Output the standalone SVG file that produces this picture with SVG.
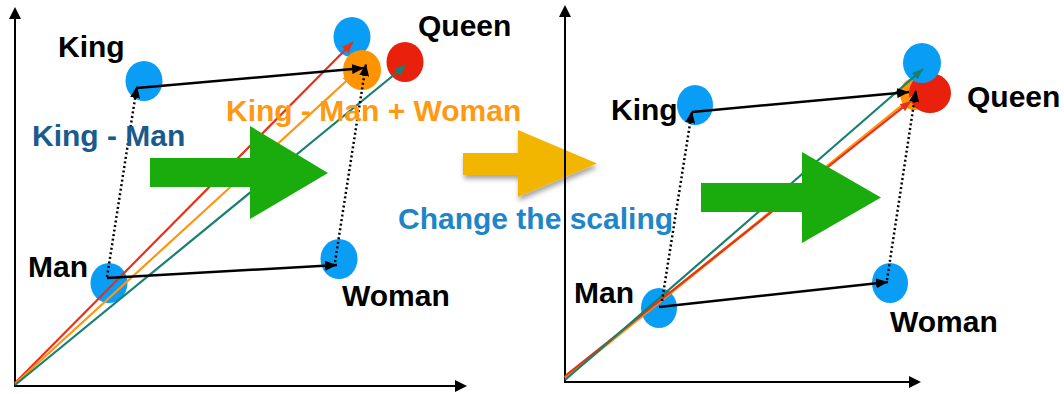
<svg xmlns="http://www.w3.org/2000/svg" width="1064" height="394" viewBox="0 0 1064 394">
  <defs>
    <marker id="ah-black" markerUnits="userSpaceOnUse" markerWidth="13" markerHeight="10" refX="12" refY="5" orient="auto">
      <path d="M0,0 L12,5 L0,10 z" fill="#000"/>
    </marker>
    <marker id="ah-red" markerUnits="userSpaceOnUse" markerWidth="12" markerHeight="10" refX="11" refY="4.5" orient="auto">
      <path d="M0,0 L11,4.5 L0,9 z" fill="#e8301a"/>
    </marker>
    <marker id="ah-orange" markerUnits="userSpaceOnUse" markerWidth="12" markerHeight="10" refX="11" refY="4.5" orient="auto">
      <path d="M0,0 L11,4.5 L0,9 z" fill="#ff9410"/>
    </marker>
    <marker id="ah-teal" markerUnits="userSpaceOnUse" markerWidth="12" markerHeight="10" refX="11" refY="4.5" orient="auto">
      <path d="M0,0 L11,4.5 L0,9 z" fill="#178070"/>
    </marker>
    <filter id="soft-shadow" x="-20%" y="-20%" width="140%" height="150%">
      <feGaussianBlur in="SourceAlpha" stdDeviation="2.5"/>
      <feOffset dx="1" dy="4" result="blur"/>
      <feComponentTransfer><feFuncA type="linear" slope="0.35"/></feComponentTransfer>
      <feMerge><feMergeNode/><feMergeNode in="SourceGraphic"/></feMerge>
    </filter>
    <style>
      .axis { stroke:#000; stroke-width:2; fill:none; }
      .dot-blue { fill:#0a9df5; }
      .dot-red { fill:#e8200c; }
      .dot-orange { fill:#ff9300; }
      .vec { stroke-width:2.2; fill:none; }
      .red { stroke:#e8301a; }
      .orange { stroke:#ff9410; }
      .teal { stroke:#178070; }
      .solid { stroke:#000; stroke-width:2.5; fill:none; }
      .dotted { stroke:#000; stroke-width:2.5; fill:none; stroke-dasharray:2 2.6; }
      .lbl { font-family:"Liberation Sans", Arial, Helvetica, sans-serif; font-weight:bold; font-size:30px; fill:#000; }
      .big-green { fill:#1aab0d; }
    </style>
  </defs>

  <!-- left plot: axes -->
  <g id="axes-left">
    <line class="axis" x1="15" y1="386" x2="15" y2="18"/>
    <path d="M15,7 L21,19 L9,19 z" fill="#000"/>
    <line class="axis" x1="14" y1="386" x2="456" y2="386"/>
    <path d="M467,386 L455,380 L455,392 z" fill="#000"/>
  </g>

  <!-- left plot: word points -->
  <g id="node-king-left">
    <ellipse class="dot-blue" cx="144" cy="81" rx="18.5" ry="20"/>
    <text class="lbl" x="58" y="57">King</text>
  </g>
  <g id="node-man-left">
    <ellipse class="dot-blue" cx="109" cy="283" rx="18.5" ry="20"/>
    <text class="lbl" x="28" y="277">Man</text>
  </g>
  <g id="node-woman-left">
    <ellipse class="dot-blue" cx="339" cy="259" rx="18.5" ry="20"/>
    <text class="lbl" x="342" y="306">Woman</text>
  </g>
  <g id="node-top-left">
    <ellipse class="dot-blue" cx="352" cy="37" rx="18.5" ry="20"/>
  </g>
  <g id="node-result-left">
    <ellipse class="dot-orange" cx="362" cy="70" rx="19" ry="20"/>
  </g>
  <g id="node-queen-left">
    <ellipse class="dot-red" cx="405" cy="62" rx="18.5" ry="20"/>
    <text class="lbl" x="418" y="36">Queen</text>
  </g>

  <!-- left plot: vectors -->
  <g id="connectors-left">
    <line class="vec red" x1="15" y1="383" x2="353" y2="42" marker-end="url(#ah-red)"/>
    <line class="vec orange" x1="15" y1="384" x2="354" y2="74" marker-end="url(#ah-orange)"/>
    <line class="vec teal" x1="15" y1="385" x2="406" y2="65" marker-end="url(#ah-teal)"/>
    <line class="solid" x1="137" y1="88" x2="364" y2="68" marker-end="url(#ah-black)"/>
    <line class="dotted" x1="107" y1="277" x2="137" y2="86" marker-end="url(#ah-black)"/>
    <line class="solid" x1="107" y1="278" x2="337" y2="265" marker-end="url(#ah-black)"/>
    <line class="dotted" x1="335" y1="262" x2="366" y2="64" marker-end="url(#ah-black)"/>
  </g>

  <!-- left plot: direction arrow and captions -->
  <polygon id="arrow-green-left" class="big-green" points="150,158 250,158 250,126 328,173 250,219 250,187 150,187"/>
  <text id="caption-king-man" class="lbl" x="32" y="146" style="fill:#1b5a8c">King - Man</text>
  <text id="caption-result" class="lbl" x="226" y="121" style="fill:#ff9914">King - Man + Woman</text>

  <!-- transition between the two plots -->
  <polygon id="arrow-yellow" points="463,153 518,153 518,130 597,163.5 518,197 518,175 463,175" fill="#f2b604" filter="url(#soft-shadow)"/>
  <text id="caption-scaling" class="lbl" x="398" y="229" style="fill:#1e86c8">Change the scaling</text>

  <!-- right plot: axes -->
  <g id="axes-right">
    <line class="axis" x1="565" y1="382" x2="565" y2="16"/>
    <path d="M565,5 L571,17 L559,17 z" fill="#000"/>
    <line class="axis" x1="564" y1="382" x2="910" y2="382"/>
    <path d="M921,382 L909,376 L909,388 z" fill="#000"/>
  </g>

  <!-- right plot: word points -->
  <g id="node-king-right">
    <ellipse class="dot-blue" cx="695" cy="105" rx="18" ry="20"/>
    <text class="lbl" x="611" y="120">King</text>
  </g>
  <g id="node-man-right">
    <ellipse class="dot-blue" cx="659" cy="308" rx="18" ry="20"/>
    <text class="lbl" x="574" y="303">Man</text>
  </g>
  <g id="node-woman-right">
    <ellipse class="dot-blue" cx="890" cy="283" rx="18" ry="20"/>
    <text class="lbl" x="890" y="332">Woman</text>
  </g>
  <g id="node-result-right">
    <ellipse class="dot-orange" cx="914" cy="94" rx="14" ry="16"/>
  </g>
  <g id="node-queen-right">
    <ellipse class="dot-red" cx="930" cy="93" rx="21" ry="20"/>
    <text class="lbl" x="967" y="107">Queen</text>
  </g>
  <g id="node-top-right">
    <ellipse class="dot-blue" cx="922" cy="63" rx="19" ry="20"/>
  </g>

  <!-- right plot: vectors -->
  <g id="connectors-right">
    <line class="vec orange" x1="565" y1="378" x2="913" y2="97" marker-end="url(#ah-orange)" style="stroke-width:3"/>
    <line class="vec red" x1="565" y1="376" x2="911" y2="101" marker-end="url(#ah-red)"/>
    <line class="vec teal" x1="565" y1="380" x2="923" y2="69" marker-end="url(#ah-teal)"/>
    <line class="solid" x1="692" y1="112" x2="909" y2="92" marker-end="url(#ah-black)"/>
    <line class="dotted" x1="662" y1="301" x2="692" y2="111" marker-end="url(#ah-black)"/>
    <line class="solid" x1="659" y1="307" x2="888" y2="282" marker-end="url(#ah-black)"/>
    <line class="dotted" x1="887" y1="280" x2="916" y2="90" marker-end="url(#ah-black)"/>
  </g>

  <!-- right plot: direction arrow -->
  <polygon id="arrow-green-right" class="big-green" points="701,183 802,183 802,152 881,197.5 802,243 802,212 701,212"/>
</svg>
